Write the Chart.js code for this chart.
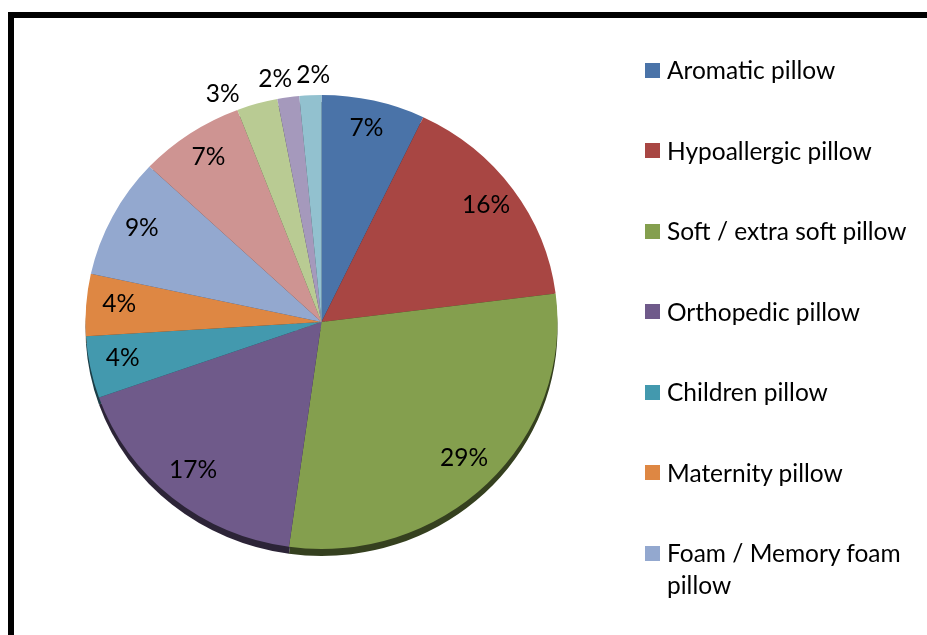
<!DOCTYPE html>
<html>
<head>
<meta charset="utf-8">
<script src="https://cdn.jsdelivr.net/npm/chart.js@4.4.1/dist/chart.umd.min.js"></script>
<style>
  html, body { margin: 0; padding: 0; background: #fff; overflow: hidden; }
  #wrap { position: relative; width: 927px; height: 635px; overflow: hidden; }
  #frame { position: absolute; left: 8px; top: 12px; width: 1000px; height: 1000px; border: 6px solid #000; box-sizing: border-box; }
  #pie { position: absolute; left: 0; top: 0; }
  #legend { position: absolute; left: 645px; top: 54px; width: 262px; font-family: Lato, sans-serif; font-size: 24.5px; color: #000; }
  .item { display: flex; align-items: flex-start; line-height: 32px; margin-bottom: 48.5px; }
  .box { width: 15px; height: 15px; margin-top: 8.5px; margin-right: 7px; flex: none; }
</style>
</head>
<body>
<div id="wrap">
  <div id="frame"></div>
  <canvas id="pie" width="927" height="635"></canvas>
  <div id="legend"></div>
</div>
<script>
// pillow types, last four are cut off in the picture
const labels = [
    'Aromatic pillow',
    'Hypoallergic pillow',
    'Soft / extra soft pillow',
    'Orthopedic pillow',
    'Children pillow',
    'Maternity pillow',
    'Foam / Memory foam pillow',
    'Latex pillow',
    'Feather / down pillow',
    'Buckwheat pillow',
    'Other pillow'
];
const shares = [7.1, 15.9, 29.2, 17.4, 4.4, 4.4, 8.6, 7.2, 2.8, 1.5, 1.5];
const colors = ['#4a73a8', '#a84643', '#849f4e', '#6f5a8a', '#4399ae', '#de8743',
                '#93a8cf', '#ce9492', '#b9cb93', '#a599bc', '#92c1cf'];

const squash = 0.962;   // pie is a bit flatter than wide
const depth = 7;        // height of the dark rim under the pie

function darker(hex, f) {
    var n = parseInt(hex.slice(1), 16);
    var r = Math.round(((n >> 16) & 255) * f);
    var g = Math.round(((n >> 8) & 255) * f);
    var b = Math.round((n & 255) * f);
    return 'rgb(' + r + ',' + g + ',' + b + ')';
}

const pie3d = {
    id: 'pie3d',
    beforeDatasetsDraw(chart) {
        const ctx = chart.ctx;
        const arcs = chart.getDatasetMeta(0).data;
        const cx = arcs[0].x, cy = arcs[0].y;
        ctx.save();
        ctx.translate(cx, cy);
        ctx.scale(1, squash);
        ctx.translate(-cx, -cy);
        arcs.forEach((arc, i) => {
            const p = arc.getProps(['startAngle', 'endAngle', 'outerRadius']);
            ctx.beginPath();
            ctx.moveTo(cx, cy + depth / squash);
            ctx.arc(cx, cy + depth / squash, p.outerRadius, p.startAngle, p.endAngle);
            ctx.closePath();
            ctx.fillStyle = darker(colors[i], 0.4);
            ctx.fill();
        });
    },
    afterDatasetsDraw(chart) {
        chart.ctx.restore();
    }
};

const pctLabels = {
    id: 'pctLabels',
    afterDraw(chart) {
        const ctx = chart.ctx;
        const arcs = chart.getDatasetMeta(0).data;
        const vals = chart.data.datasets[0].data;
        ctx.save();
        ctx.font = '24.5px Lato';
        ctx.fillStyle = '#000';
        ctx.textAlign = 'center';
        ctx.textBaseline = 'middle';

        // small slices get their label outside, spread apart along the rim
        const outside = [];
        arcs.forEach((arc, i) => { if (vals[i] < 4) outside.push(i); });
        let groupMid = 0;
        outside.forEach(i => {
            const p = arcs[i].getProps(['startAngle', 'endAngle']);
            groupMid += (p.startAngle + p.endAngle) / 2 / outside.length;
        });

        arcs.forEach((arc, i) => {
            const p = arc.getProps(['x', 'y', 'startAngle', 'endAngle', 'outerRadius']);
            let mid = (p.startAngle + p.endAngle) / 2;
            let d = p.outerRadius * 0.86;
            if (vals[i] < 4) {
                mid = groupMid + (mid - groupMid) * 1.6 - 0.05;
                d = p.outerRadius + 18;
            }
            const x = p.x + Math.cos(mid) * d;
            const y = p.y + Math.sin(mid) * d * squash - 3;
            ctx.fillText(Math.round(vals[i]) + '%', x, y);
        });
        ctx.restore();
    }
};

const chart = new Chart(document.getElementById('pie'), {
    type: 'pie',
    data: {
        labels: labels,
        datasets: [{
            data: shares,
            backgroundColor: colors,
            borderWidth: 0
        }]
    },
    options: {
        responsive: false,
        animation: false,
        radius: 236,
        layout: { padding: { left: 0, right: 284, top: 9, bottom: 0 } },
        plugins: {
            legend: { display: false },
            tooltip: { enabled: false }
        }
    },
    plugins: [pie3d, pctLabels]
});

// legend on the right, built from the chart's own legend items
const legendBox = document.getElementById('legend');
chart.options.plugins.legend.labels.generateLabels(chart).forEach(item => {
    const row = document.createElement('div');
    row.className = 'item';
    const sw = document.createElement('span');
    sw.className = 'box';
    sw.style.background = item.fillStyle;
    const t = document.createElement('span');
    t.textContent = item.text;
    row.appendChild(sw);
    row.appendChild(t);
    legendBox.appendChild(row);
});
</script>
</body>
</html>
